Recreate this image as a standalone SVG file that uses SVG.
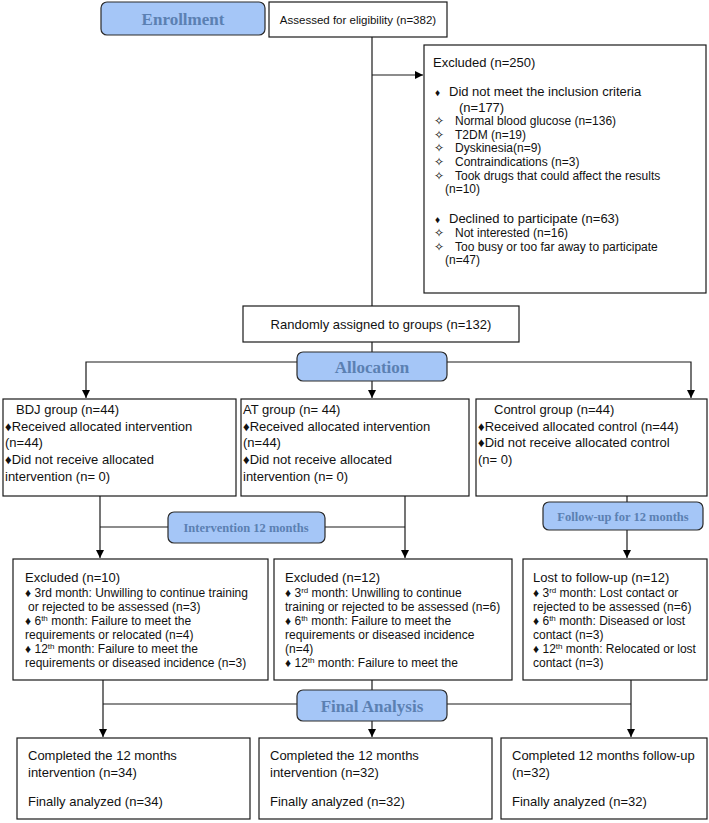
<svg xmlns="http://www.w3.org/2000/svg" width="709" height="823" viewBox="0 0 709 823">
<style>
.box{fill:#fff;stroke:#1a1a1a;stroke-width:1.2}
.lbl{fill:#a5c6f7;stroke:#2a2a2a;stroke-width:1.2}
.lt{font-family:"Liberation Serif","Times New Roman",serif;font-weight:bold;fill:#5b80b2;text-anchor:middle}
.t{font-family:"Liberation Sans",Arial,sans-serif;font-size:13px;fill:#111}
.s{font-family:"Liberation Sans",Arial,sans-serif;font-size:12px;fill:#111}
.c{text-anchor:middle}
.ln{stroke:#1a1a1a;stroke-width:1.2;fill:none}
.sup{font-size:8px}
</style>
<defs>
<marker id="ah" viewBox="0 0 10 10" refX="10" refY="5" markerWidth="8" markerHeight="8" markerUnits="userSpaceOnUse" orient="auto">
<path d="M0,0 L10,5 L0,10 z" fill="#000"/>
</marker>
</defs>

<g id="connectors">
<path class="ln" d="M372,37 V306"/>
<path class="ln" d="M372,75 H423" marker-end="url(#ah)"/>
<path class="ln" d="M372,342 V352"/>
<path class="ln" d="M297,362 H86 V398" marker-end="url(#ah)"/>
<path class="ln" d="M447,362 H691 V398" marker-end="url(#ah)"/>
<path class="ln" d="M372,381 V398" marker-end="url(#ah)"/>
<path class="ln" d="M100,496 V558" marker-end="url(#ah)"/>
<path class="ln" d="M405,496 V558" marker-end="url(#ah)"/>
<path class="ln" d="M100,527 H168"/>
<path class="ln" d="M325,527 H405"/>
<path class="ln" d="M627,496 V502"/>
<path class="ln" d="M627,530 V558" marker-end="url(#ah)"/>
<path class="ln" d="M103,680 V737" marker-end="url(#ah)"/>
<path class="ln" d="M631,680 V737" marker-end="url(#ah)"/>
<path class="ln" d="M372,680 V690"/>
<path class="ln" d="M103,704 H297"/>
<path class="ln" d="M447,704 H631"/>
<path class="ln" d="M372,721 V737" marker-end="url(#ah)"/>
</g>

<g id="enrollment">
<rect class="lbl" x="101" y="2" width="164" height="33" rx="6"/>
<text class="lt" x="183" y="25" font-size="17">Enrollment</text>
</g>

<g id="assessed">
<rect class="box" x="269" y="2" width="178" height="35"/>
<text class="t c" x="358" y="24" style="font-size:11.5px">Assessed for eligibility (n=382)</text>
</g>

<g id="excluded">
<rect class="box" x="424" y="45" width="282" height="248"/>
<text class="t" x="433" y="67">Excluded (n=250)</text>
<text class="t" y="96"><tspan x="435" font-size="10">♦</tspan><tspan x="449">Did not meet the inclusion criteria</tspan></text>
<text class="t" x="459" y="112">(n=177)</text>
<text class="s" y="125"><tspan x="434">✧</tspan><tspan x="455">Normal blood glucose (n=136)</tspan></text>
<text class="s" y="139"><tspan x="434">✧</tspan><tspan x="455">T2DM (n=19)</tspan></text>
<text class="s" y="152"><tspan x="434">✧</tspan><tspan x="455">Dyskinesia(n=9)</tspan></text>
<text class="s" y="166"><tspan x="434">✧</tspan><tspan x="455">Contraindications (n=3)</tspan></text>
<text class="s" y="180"><tspan x="434">✧</tspan><tspan x="455">Took drugs that could affect the results</tspan></text>
<text class="s" x="445" y="193">(n=10)</text>
<text class="t" y="223"><tspan x="435" font-size="10">♦</tspan><tspan x="449">Declined to participate (n=63)</tspan></text>
<text class="s" y="237"><tspan x="434">✧</tspan><tspan x="455">Not interested (n=16)</tspan></text>
<text class="s" y="251"><tspan x="434">✧</tspan><tspan x="455">Too busy or too far away to participate</tspan></text>
<text class="s" x="445" y="264">(n=47)</text>
</g>

<g id="randomized">
<rect class="box" x="243" y="306" width="276" height="36"/>
<text class="t c" x="381" y="329">Randomly assigned to groups (n=132)</text>
</g>

<g id="allocation">
<rect class="lbl" x="297" y="352" width="150" height="29" rx="6"/>
<text class="lt" x="372" y="373" font-size="17">Allocation</text>
</g>

<g id="bdj">
<rect class="box" x="3" y="399" width="233" height="97"/>
<text class="t" x="16" y="414">BDJ group (n=44)</text>
<text class="t" x="5" y="431">♦Received allocated intervention</text>
<text class="t" x="5" y="447">(n=44)</text>
<text class="t" x="5" y="464">♦Did not receive allocated</text>
<text class="t" x="5" y="481">intervention (n= 0)</text>
</g>

<g id="at">
<rect class="box" x="241" y="399" width="228" height="97"/>
<text class="t" x="243" y="414">AT group (n= 44)</text>
<text class="t" x="243" y="431">♦Received allocated intervention</text>
<text class="t" x="243" y="447">(n=44)</text>
<text class="t" x="243" y="464">♦Did not receive allocated</text>
<text class="t" x="243" y="481">intervention (n= 0)</text>
</g>

<g id="control">
<rect class="box" x="476" y="399" width="231" height="97"/>
<text class="t" x="494" y="414">Control group (n=44)</text>
<text class="t" x="478" y="431">♦Received allocated control (n=44)</text>
<text class="t" x="478" y="447">♦Did not receive allocated control</text>
<text class="t" x="478" y="464">(n= 0)</text>
</g>

<g id="intervention">
<rect class="lbl" x="168" y="512" width="157" height="31" rx="6"/>
<text class="lt" x="246" y="532" font-size="12.5">Intervention 12 months</text>
</g>

<g id="followup">
<rect class="lbl" x="543" y="502" width="160" height="28" rx="6"/>
<text class="lt" x="623" y="521" font-size="12.5">Follow-up for 12 months</text>
</g>

<g id="excl-bdj">
<rect class="box" x="13" y="559" width="255" height="121"/>
<text class="t" x="25" y="582">Excluded (n=10)</text>
<text class="s" x="25" y="597">♦ 3rd month: Unwilling to continue training</text>
<text class="s" x="28" y="611">or rejected to be assessed (n=3)</text>
<text class="s" x="25" y="625">♦ 6<tspan class="sup" dy="-4">th</tspan><tspan dy="4"> month: Failure to meet the</tspan></text>
<text class="s" x="25" y="639">requirements or relocated (n=4)</text>
<text class="s" x="25" y="653">♦ 12<tspan class="sup" dy="-4">th</tspan><tspan dy="4"> month: Failure to meet the</tspan></text>
<text class="s" x="25" y="667">requirements or diseased incidence (n=3)</text>
</g>

<g id="excl-at">
<rect class="box" x="274" y="559" width="238" height="121"/>
<text class="t" x="285" y="582">Excluded (n=12)</text>
<text class="s" x="285" y="597">♦ 3<tspan class="sup" dy="-4">rd</tspan><tspan dy="4"> month: Unwilling to continue</tspan></text>
<text class="s" x="285" y="611">training or rejected to be assessed (n=6)</text>
<text class="s" x="285" y="625">♦ 6<tspan class="sup" dy="-4">th</tspan><tspan dy="4"> month: Failure to meet the</tspan></text>
<text class="s" x="285" y="639">requirements or diseased incidence</text>
<text class="s" x="285" y="653">(n=4)</text>
<text class="s" x="285" y="667">♦ 12<tspan class="sup" dy="-4">th</tspan><tspan dy="4"> month: Failure to meet the</tspan></text>
</g>

<g id="lost">
<rect class="box" x="523" y="559" width="184" height="121"/>
<text class="t" x="533" y="582">Lost to follow-up (n=12)</text>
<text class="s" x="533" y="597">♦ 3<tspan class="sup" dy="-4">rd</tspan><tspan dy="4"> month: Lost contact or</tspan></text>
<text class="s" x="533" y="611">rejected to be assessed (n=6)</text>
<text class="s" x="533" y="625">♦ 6<tspan class="sup" dy="-4">th</tspan><tspan dy="4"> month: Diseased or lost</tspan></text>
<text class="s" x="533" y="639">contact (n=3)</text>
<text class="s" x="533" y="653">♦ 12<tspan class="sup" dy="-4">th</tspan><tspan dy="4"> month: Relocated or lost</tspan></text>
<text class="s" x="533" y="667">contact (n=3)</text>
</g>

<g id="final">
<rect class="lbl" x="297" y="690" width="150" height="31" rx="6"/>
<text class="lt" x="372" y="712" font-size="17">Final Analysis</text>
</g>

<g id="done-bdj">
<rect class="box" x="17" y="738" width="233" height="81"/>
<text class="t" x="28" y="760">Completed the 12 months</text>
<text class="t" x="28" y="777">intervention (n=34)</text>
<text class="t" x="28" y="806">Finally analyzed (n=34)</text>
</g>

<g id="done-at">
<rect class="box" x="259" y="738" width="233" height="81"/>
<text class="t" x="270" y="760">Completed the 12 months</text>
<text class="t" x="270" y="777">intervention (n=32)</text>
<text class="t" x="270" y="806">Finally analyzed (n=32)</text>
</g>

<g id="done-ctrl">
<rect class="box" x="501" y="738" width="206" height="81"/>
<text class="t" x="512" y="760">Completed 12 months follow-up</text>
<text class="t" x="512" y="777">(n=32)</text>
<text class="t" x="512" y="806">Finally analyzed (n=32)</text>
</g>
</svg>
